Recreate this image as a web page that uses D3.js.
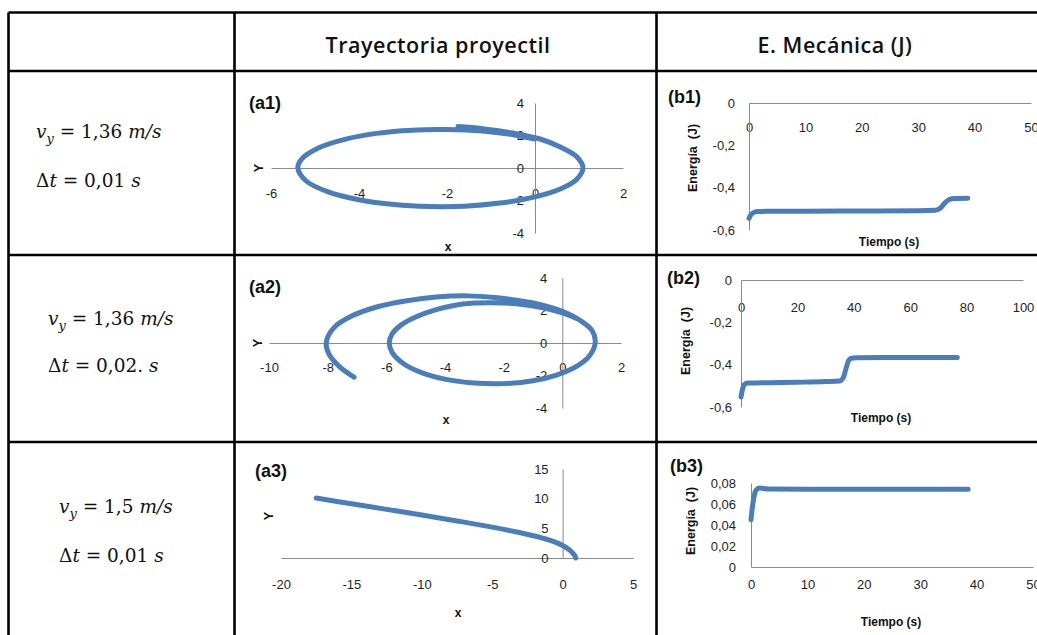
<!DOCTYPE html>
<html>
<head>
<meta charset="utf-8">
<script src="https://cdn.jsdelivr.net/npm/d3@7"></script>
<style>
  body { margin: 0; background: #fff; }
  .tick text { font-family: "Liberation Sans", Arial, sans-serif; font-size: 13px; fill: #1e1e1e; }
  .domain { stroke: #8a8a8a; stroke-width: 1; }
</style>
</head>
<body>
<div id="chart"></div>
<script>
// ---------- data ----------
var headers = ["Trayectoria proyectil", "E. Mecánica (J)"];
var vyValues = ["1,36", "1,36", "1,5"];
var dtValues = ["0,01", "0,02.", "0,01"];
var panelTags = ["(a1)", "(b1)", "(a2)", "(b2)", "(a3)", "(b3)"];

// (a1) trajectory, one closed orbit with a short overlap at the start
var a1X = [-1.75, -1.2, -0.5, 0.1, 0.6, 0.95, 1.09, 0.95, 0.6, 0.0, -0.8, -1.6, -2.4, -3.2, -4.0, -4.7, -5.2, -5.39, -5.3, -4.9, -4.3, -3.6, -2.8, -2.0, -1.2, -0.5, 0.0];
var a1Y = [2.55, 2.42, 2.15, 1.8, 1.26, 0.69, 0.0, -0.69, -1.26, -1.78, -2.16, -2.35, -2.37, -2.25, -1.95, -1.47, -0.8, 0.0, 0.56, 1.26, 1.78, 2.13, 2.33, 2.37, 2.28, 2.05, 1.78];
var a1XTicks = [-6, -4, -2, 0, 2];
var a1YTicks = [-4, -2, 0, 2, 4];

// (b1) mechanical energy
var b1T = [0, 0.3, 0.8, 1.5, 3, 10, 20, 30, 33, 34, 34.8, 35.5, 36.5, 38.8];
var b1E = [-0.545, -0.53, -0.518, -0.513, -0.512, -0.511, -0.51, -0.509, -0.507, -0.495, -0.47, -0.456, -0.451, -0.45];
var b1XTicks = [0, 10, 20, 30, 40, 50];
var b1YTicks = [-0.6, -0.4, -0.2, 0];

// (a2) trajectory, two laps drifting outwards
var a2X = [0.5, 0.0, -0.7, -1.5, -2.4, -3.4, -4.3, -5.0, -5.5, -5.8, -5.9, -5.8, -5.4, -4.8, -4.0, -3.0, -2.0, -1.0, -0.2, 0.5, 0.9, 1.12, 1.02, 0.6, 0.0, -0.7, -1.5, -2.3, -3.2, -4.3, -5.3, -6.3, -7.2, -7.8, -8.05, -7.95, -7.6, -7.1];
var a2Y = [1.5, 1.85, 2.18, 2.4, 2.48, 2.4, 2.05, 1.6, 1.1, 0.57, 0.0, -0.59, -1.29, -1.82, -2.22, -2.46, -2.5, -2.32, -1.97, -1.42, -0.85, 0.0, 0.75, 1.4, 1.95, 2.35, 2.62, 2.8, 2.9, 2.83, 2.6, 2.23, 1.64, 0.92, 0.0, -0.7, -1.45, -2.1];
var a2XTicks = [-10, -8, -6, -4, -2, 0, 2];
var a2YTicks = [-4, -2, 0, 2, 4];

// (b2) mechanical energy
var b2T = [0, 0.3, 0.8, 1.5, 2.5, 10, 20, 30, 35, 36.3, 37.2, 38.0, 39.0, 41, 50, 60, 70, 76.7];
var b2E = [-0.553, -0.53, -0.505, -0.49, -0.487, -0.485, -0.483, -0.48, -0.477, -0.46, -0.42, -0.385, -0.37, -0.367, -0.366, -0.366, -0.366, -0.366];
var b2XTicks = [0, 20, 40, 60, 80, 100];
var b2YTicks = [-0.6, -0.4, -0.2, 0];

// (a3) trajectory, escape
var a3X = [-17.5, -15, -12.5, -10, -7.5, -5, -3, -2, -1, -0.4, 0, 0.4, 0.7, 0.88, 0.93];
var a3Y = [10.1, 9.15, 8.2, 7.25, 6.25, 5.2, 4.25, 3.7, 3.05, 2.55, 2.1, 1.5, 0.9, 0.35, 0.0];
var a3XTicks = [-20, -15, -10, -5, 0, 5];
var a3YTicks = [0, 5, 10, 15];

// (b3) mechanical energy
var b3T = [0, 0.2, 0.5, 0.9, 1.5, 3, 10, 20, 30, 38.5];
var b3E = [0.045, 0.055, 0.066, 0.073, 0.0752, 0.0742, 0.074, 0.074, 0.074, 0.074];
var b3XTicks = [0, 10, 20, 30, 40, 50];
var b3YTicks = [0, 0.02, 0.04, 0.06, 0.08];

// ---------- page ----------
var W = 1037, H = 635;
var blue = "#4a7ebb";

var svg = d3.select("#chart").append("svg")
    .attr("width", W)
    .attr("height", H)
    .style("background", "#fff");

// decimal comma, plain hyphen for the minus sign
var es = d3.formatLocale({decimal: ",", thousands: ".", grouping: [3], currency: ["", " €"], minus: "-"});
var fmtInt = es.format("d");
function fmtDec(n) { var f = es.format("." + n + "f"); return function(d) { return d === 0 ? "0" : f(d); }; }

// ---------- table grid ----------
var colX = [8.5, 234.5, 656.5];
var rowY = [12.5, 71, 255, 442];
var grid = svg.append("g").attr("stroke", "#000").attr("stroke-width", 2.6);
colX.forEach(function(x) { grid.append("line").attr("x1", x).attr("x2", x).attr("y1", rowY[0]).attr("y2", H + 5); });
rowY.forEach(function(y) { grid.append("line").attr("x1", colX[0]).attr("x2", W + 5).attr("y1", y).attr("y2", y); });

// header texts
svg.selectAll("text.header")
  .data(headers)
  .enter()
  .append("text")
    .attr("class", "header")
    .attr("x", function(d, i) { return [438, 835][i]; })
    .attr("y", 53)
    .attr("text-anchor", "middle")
    .style("font-family", "'Open Sans', sans-serif")
    .style("font-size", "21.5px")
    .style("font-weight", 600)
    .style("letter-spacing", "0.5px")
    .style("fill", "#111")
    .text(function(d) { return d; });

// left column: initial speed and time step
var serif = "'DejaVu Serif', 'Liberation Serif', serif";
var leftPos = [{x: 36, y1: 138, y2: 187}, {x: 48, y1: 325, y2: 372}, {x: 59, y1: 513, y2: 562}];

function mathVy(x, y, val) {
  var t = svg.append("text").attr("x", x).attr("y", y)
      .style("font-family", serif).style("font-size", "18.5px").style("fill", "#111");
  t.append("tspan").style("font-style", "italic").text("v");
  t.append("tspan").style("font-style", "italic").style("font-size", "13px").attr("dy", 5).text("y");
  t.append("tspan").attr("dy", -5).text(" = " + val + " ");
  t.append("tspan").style("font-style", "italic").text("m/s");
}
function mathDt(x, y, val) {
  var t = svg.append("text").attr("x", x).attr("y", y)
      .style("font-family", serif).style("font-size", "18.5px").style("fill", "#111");
  t.append("tspan").text("Δ");
  t.append("tspan").style("font-style", "italic").text("t");
  t.append("tspan").text(" = " + val + " ");
  t.append("tspan").style("font-style", "italic").text("s");
}
leftPos.forEach(function(p, i) {
  mathVy(p.x, p.y1, vyValues[i]);
  mathDt(p.x, p.y2, dtValues[i]);
});

// ---------- the six small charts ----------
var panels = [
  {tag: panelTags[0], tagPos: [249, 109], xs: a1X, ys: a1Y, curve: d3.curveCatmullRom,
   xDom: [-6, 2], xRange: [271, 623], yDom: [-4, 4], yRange: [233, 103],
   xTicks: a1XTicks, yTicks: a1YTicks, xFmt: fmtInt, yFmt: fmtInt, xCross: 0, yCross: 0, xOff: 25, yPad: 11,
   xTitle: "x", xTitlePos: [448, 247], yTitle: "Y", yTitlePos: [259, 168]},
  {tag: panelTags[1], tagPos: [668, 103], xs: b1T, ys: b1E, curve: d3.curveMonotoneX,
   xDom: [0, 50], xRange: [749, 1031], yDom: [-0.6, 0], yRange: [230, 103],
   xTicks: b1XTicks, yTicks: b1YTicks, xFmt: fmtInt, yFmt: fmtDec(1), xCross: 0, yCross: 0, xOff: 24, yPad: 14,
   xTitle: "Tiempo (s)", xTitlePos: [889, 242], yTitle: "Energía  (J)", yTitlePos: [693, 158]},
  {tag: panelTags[2], tagPos: [249, 293], xs: a2X, ys: a2Y, curve: d3.curveCatmullRom,
   xDom: [-10, 2], xRange: [269, 621], yDom: [-4, 4], yRange: [408, 278],
   xTicks: a2XTicks, yTicks: a2YTicks, xFmt: fmtInt, yFmt: fmtInt, xCross: 0, yCross: 0, xOff: 24, yPad: 15,
   xTitle: "x", xTitlePos: [446, 420], yTitle: "Y", yTitlePos: [258, 343]},
  {tag: panelTags[3], tagPos: [667, 284], xs: b2T, ys: b2E, curve: d3.curveMonotoneX,
   xDom: [0, 100], xRange: [741, 1023], yDom: [-0.6, 0], yRange: [407, 280],
   xTicks: b2XTicks, yTicks: b2YTicks, xFmt: fmtInt, yFmt: fmtDec(1), xCross: 0, yCross: 0, xOff: 27, yPad: 9,
   xTitle: "Tiempo (s)", xTitlePos: [881, 418], yTitle: "Energía  (J)", yTitlePos: [686, 341]},
  {tag: panelTags[4], tagPos: [255, 477], xs: a3X, ys: a3Y, curve: d3.curveCatmullRom,
   xDom: [-20, 5], xRange: [281, 633], yDom: [0, 15], yRange: [558, 469],
   xTicks: a3XTicks, yTicks: a3YTicks, xFmt: fmtInt, yFmt: fmtInt, xCross: 0, yCross: 0, xOff: 26, yPad: 14,
   xTitle: "x", xTitlePos: [458, 613], yTitle: "Y", yTitlePos: [269, 516]},
  {tag: panelTags[5], tagPos: [670, 472], xs: b3T, ys: b3E, curve: d3.curveMonotoneX,
   xDom: [0, 50], xRange: [751, 1033], yDom: [0, 0.08], yRange: [567, 483],
   xTicks: b3XTicks, yTicks: b3YTicks, xFmt: fmtInt, yFmt: fmtDec(2), xCross: 0, yCross: 0, xOff: 17, yPad: 15,
   xTitle: "Tiempo (s)", xTitlePos: [891, 622], yTitle: "Energía  (J)", yTitlePos: [691, 521]}
];

panels.forEach(function(p) {
  var g = svg.append("g");
  var x = d3.scaleLinear().domain(p.xDom).range(p.xRange);
  var y = d3.scaleLinear().domain(p.yDom).range(p.yRange);

  // horizontal axis through y = 0, labels sit a fixed distance below it
  g.append("g")
      .attr("transform", "translate(0," + y(p.yCross) + ")")
      .call(d3.axisBottom(x).tickValues(p.xTicks).tickFormat(p.xFmt)
            .tickSize(0).tickSizeOuter(0).tickPadding(p.xOff - 4.5));

  // vertical axis through x = 0
  g.append("g")
      .attr("transform", "translate(" + x(p.xCross) + ",0)")
      .call(d3.axisLeft(y).tickValues(p.yTicks).tickFormat(p.yFmt)
            .tickSize(0).tickSizeOuter(0).tickPadding(p.yPad));

  // the series
  var pts = p.xs.map(function(d, i) { return [d, p.ys[i]]; });
  var line = d3.line()
      .x(function(d) { return x(d[0]); })
      .y(function(d) { return y(d[1]); })
      .curve(p.curve);
  g.append("path")
      .attr("d", line(pts))
      .attr("fill", "none")
      .attr("stroke", blue)
      .attr("stroke-width", 5)
      .attr("stroke-linecap", "round")
      .attr("stroke-linejoin", "round");

  // axis titles
  g.append("text")
      .attr("x", p.xTitlePos[0]).attr("y", p.xTitlePos[1])
      .attr("text-anchor", "middle").attr("dominant-baseline", "central")
      .style("font-family", "'Liberation Sans', Arial, sans-serif")
      .style("font-size", "12px").style("font-weight", "bold").style("fill", "#111")
      .text(p.xTitle);
  g.append("text")
      .attr("transform", "translate(" + p.yTitlePos[0] + "," + p.yTitlePos[1] + ") rotate(-90)")
      .attr("text-anchor", "middle").attr("dominant-baseline", "central")
      .style("font-family", "'Liberation Sans', Arial, sans-serif")
      .style("font-size", "12.5px").style("font-weight", "bold").style("fill", "#111")
      .style("white-space", "pre")
      .text(p.yTitle);

  // panel tag like (a1)
  g.append("text")
      .attr("x", p.tagPos[0]).attr("y", p.tagPos[1])
      .style("font-family", "'Liberation Sans', Arial, sans-serif")
      .style("font-size", "18px").style("font-weight", "bold").style("fill", "#111")
      .text(p.tag);
});
</script>
</body>
</html>
